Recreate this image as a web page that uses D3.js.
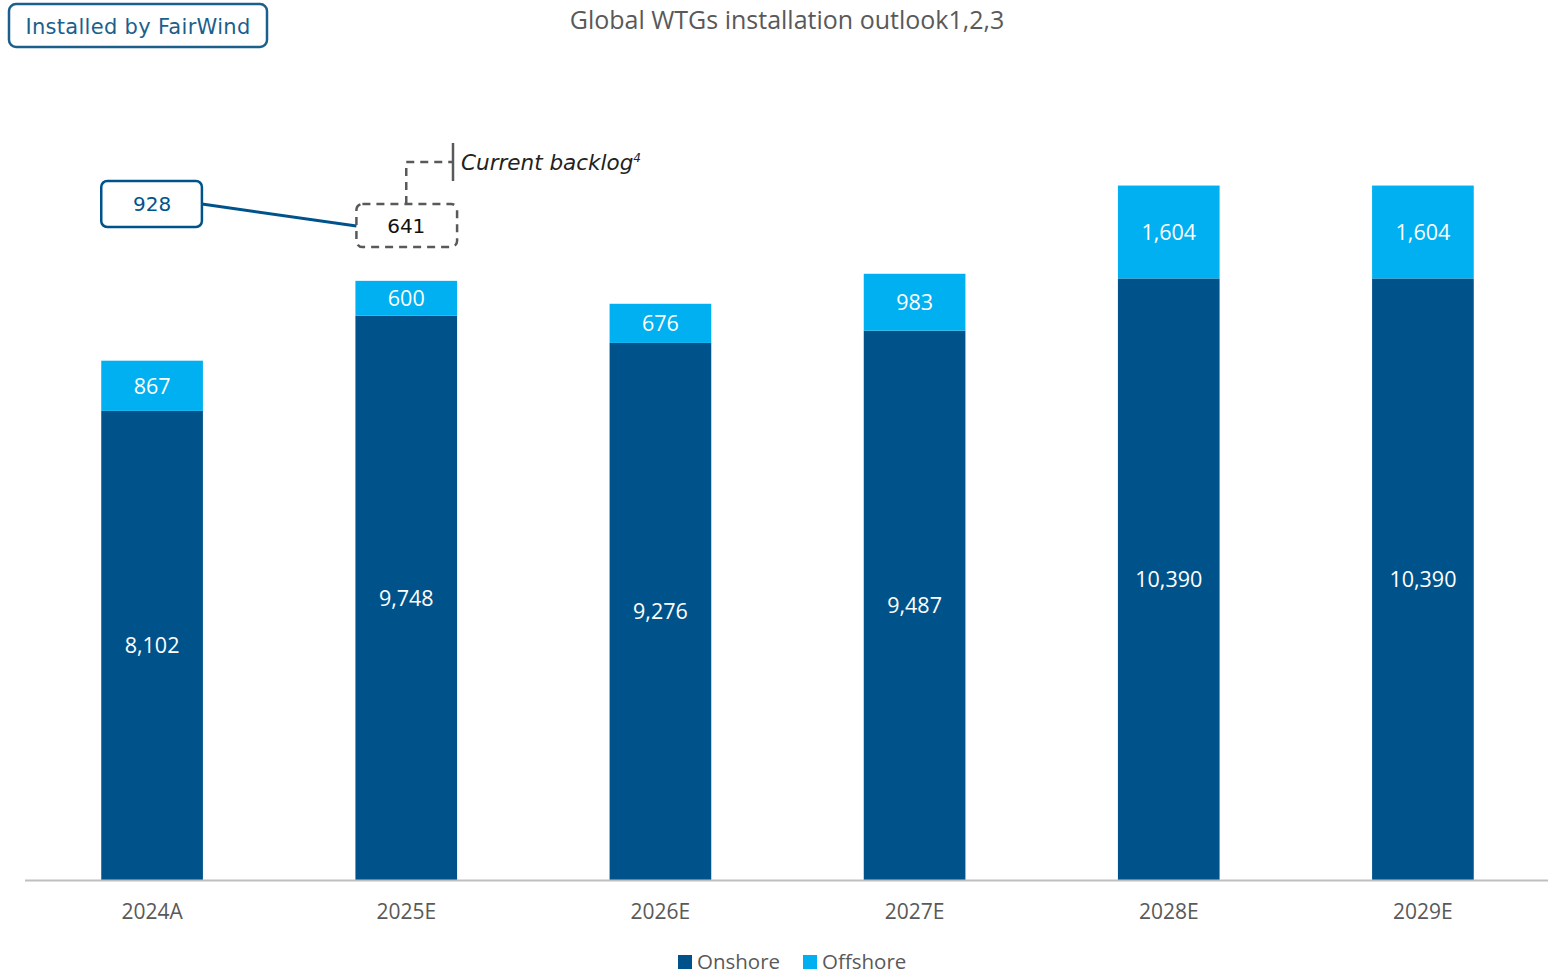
<!DOCTYPE html>
<html>
<head>
<meta charset="utf-8">
<script src="https://cdn.jsdelivr.net/npm/d3@7"></script>
<style>
  html, body { margin: 0; padding: 0; background: #fff; }
  svg { display: block; }
</style>
</head>
<body>
<svg id="chart" width="1548" height="976"></svg>
<script>
// Installed wind turbine generators per year
const years = ["2024A", "2025E", "2026E", "2027E", "2028E", "2029E"];
const onshore = [8102, 9748, 9276, 9487, 10390, 10390];
const offshore = [867, 600, 676, 983, 1604, 1604];
const seriesNames = ["Onshore", "Offshore"];
const fairwindInstalled = 928;   // installed by FairWind, 2024A
const currentBacklog = 641;      // current backlog, 2025E

const baseY = 880, topY = 127.3;
const colors = { Onshore: "#00538A", Offshore: "#00B0F0" };
const labelFont = "'Open Sans', 'Noto Sans', sans-serif";
const calloutFont = "'DejaVu Sans', sans-serif";
const grey = "#595959";

const svg = d3.select("#chart");

const x = d3.scaleBand().domain(years).range([25, 1550])
  .paddingInner(0.6).paddingOuter(0.3);
const y = d3.scaleLinear().domain([0, 13000]).range([baseY, topY]);

const rows = years.map((yr, i) => ({ year: yr, Onshore: onshore[i], Offshore: offshore[i] }));
const stacked = d3.stack().keys(seriesNames)(rows);

// bars
const layers = svg.append("g").selectAll("g").data(stacked).join("g")
  .attr("fill", d => colors[d.key]);
layers.selectAll("rect").data(d => d).join("rect")
  .attr("x", d => x(d.data.year))
  .attr("width", x.bandwidth())
  .attr("y", d => y(d[1]))
  .attr("height", d => y(d[0]) - y(d[1]));

// value labels centred in each segment
layers.selectAll("text").data(d => d.map(v => ({ v, key: d.key }))).join("text")
  .attr("x", d => x(d.v.data.year) + x.bandwidth() / 2)
  .attr("y", d => (y(d.v[0]) + y(d.v[1])) / 2)
  .attr("dy", "0.36em")
  .attr("text-anchor", "middle")
  .attr("fill", "#fff")
  .attr("font-family", labelFont)
  .attr("font-size", 21.5)
  .text(d => d3.format(",")(d.v.data[d.key]));

// x axis
const xAxis = svg.append("g").attr("transform", `translate(0,${baseY})`)
  .call(d3.axisBottom(x).tickSize(0).tickPadding(24));
xAxis.select(".domain").attr("stroke", "#BFBFBF").attr("stroke-width", 2)
  .attr("d", "M25,0.5H1548");
xAxis.selectAll("text").attr("fill", grey).attr("font-family", labelFont)
  .attr("font-size", 21);

// title
svg.append("text").attr("x", 787).attr("y", 29).attr("text-anchor", "middle")
  .attr("fill", grey).attr("font-family", labelFont).attr("font-size", 25)
  .text("Global WTGs installation outlook1,2,3");

// "Installed by FairWind" tag
const tagColor = "#1B5F8C";
svg.append("rect").attr("x", 9).attr("y", 4).attr("width", 258).attr("height", 43)
  .attr("rx", 7).attr("fill", "#fff").attr("stroke", tagColor).attr("stroke-width", 2.5);
svg.append("text").attr("x", 138).attr("y", 26).attr("dy", "0.36em")
  .attr("text-anchor", "middle").attr("fill", tagColor)
  .attr("font-family", calloutFont).attr("font-size", 21).attr("letter-spacing", 0.3)
  .text("Installed by FairWind");

// FairWind installed callout (2024A)
const cx0 = x("2024A"), bw = x.bandwidth();
const cx1 = x("2025E");
const boxTop = 181, boxH = 46;
svg.append("line")
  .attr("x1", cx0 + bw - 1).attr("y1", boxTop + boxH / 2)
  .attr("x2", cx1 + 1).attr("y2", 226)
  .attr("stroke", "#00538A").attr("stroke-width", 3);
svg.append("rect").attr("x", cx0).attr("y", boxTop).attr("width", bw - 1).attr("height", boxH)
  .attr("rx", 6).attr("fill", "#fff").attr("stroke", "#00538A").attr("stroke-width", 2.5);
svg.append("text").attr("x", cx0 + bw / 2).attr("y", boxTop + boxH / 2).attr("dy", "0.36em")
  .attr("text-anchor", "middle").attr("fill", "#00538A")
  .attr("font-family", calloutFont).attr("font-size", 20)
  .text(d3.format(",")(fairwindInstalled));

// current backlog callout (2025E)
const bTop = 204, bH = 43;
const bMid = cx1 + bw / 2;
svg.append("path")
  .attr("d", `M${bMid},${bTop}V162H453`)
  .attr("fill", "none").attr("stroke", grey).attr("stroke-width", 2.5)
  .attr("stroke-dasharray", "8,6");
svg.append("line").attr("x1", 453).attr("x2", 453).attr("y1", 143).attr("y2", 181)
  .attr("stroke", grey).attr("stroke-width", 2.5);
svg.append("rect").attr("x", cx1 + 1).attr("y", bTop).attr("width", bw - 1).attr("height", bH)
  .attr("rx", 6).attr("fill", "none").attr("stroke", grey).attr("stroke-width", 2.5)
  .attr("stroke-dasharray", "8,6");
svg.append("text").attr("x", bMid).attr("y", bTop + bH / 2).attr("dy", "0.36em")
  .attr("text-anchor", "middle").attr("fill", "#111")
  .attr("font-family", calloutFont).attr("font-size", 20)
  .text(d3.format(",")(currentBacklog));
const bl = svg.append("text").attr("x", 461).attr("y", 170)
  .attr("fill", "#222").attr("font-family", calloutFont)
  .attr("font-style", "italic").attr("font-size", 21.5);
bl.append("tspan").text("Current backlog");
bl.append("tspan").attr("font-size", 12).attr("dy", -8).text("4");

// legend
const legend = svg.append("g").attr("transform", "translate(678,955)");
const legX = [0, 125];
seriesNames.forEach((name, i) => {
  const g = legend.append("g").attr("transform", `translate(${legX[i]},0)`);
  g.append("rect").attr("width", 14).attr("height", 14).attr("fill", colors[name]);
  g.append("text").attr("x", 19).attr("y", 7).attr("dy", "0.36em")
    .attr("fill", grey).attr("font-family", labelFont).attr("font-size", 20.5)
    .text(name);
});
</script>
</body>
</html>
